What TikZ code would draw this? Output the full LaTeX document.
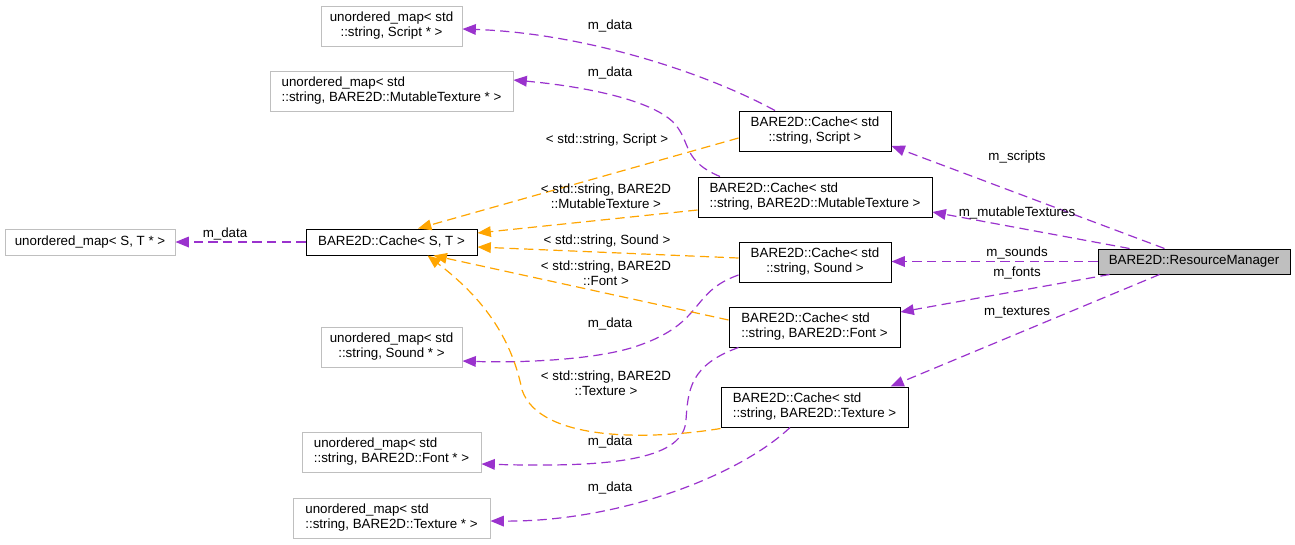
\documentclass[tikz,border=0pt]{standalone}
\usepackage{fontspec}
\setmainfont{Liberation Sans}
\usetikzlibrary{arrows.meta,positioning,calc}
\definecolor{relpurple}{HTML}{9A32CD}
\definecolor{tplorange}{HTML}{FFA500}
\definecolor{extgray}{HTML}{BFBFBF}

\begin{document}
\begin{tikzpicture}[
  x=0.75pt, y=-0.75pt,
  every node/.style={font=\fontsize{10}{11.25}\selectfont, inner sep=0pt},
  box/.style={draw, line width=0.75pt, minimum height=30pt},
  ext/.style={draw=extgray, line width=0.75pt, minimum height=30pt},
  lbl/.style={align=center},
  arr/.style={-{Triangle[length=10pt,width=8pt]}, relpurple, line width=0.9pt,
              dash pattern=on 7pt off 4pt},
  tpl/.style={-{Triangle[length=10pt,width=8pt]}, tplorange, line width=0.9pt,
              dash pattern=on 7pt off 4pt},
]
\useasboundingbox (0,0) rectangle (1295,544);

\node[box, fill=extgray, minimum width=144pt, minimum height=18.75pt] (rm) at (1194,261.5) {BARE2D::ResourceManager};

\node[box, minimum width=114pt, align=center] (csc) at (815,131) {BARE2D::Cache< std\\::string, Script >};
\node[box, minimum width=175.5pt, align=left] (cmut) at (815,197) {BARE2D::Cache< std\\::string, BARE2D::MutableTexture >};
\node[box, minimum width=114pt, align=center] (csnd) at (815,262) {BARE2D::Cache< std\\::string, Sound >};
\node[box, minimum width=128.25pt, align=left] (cfont) at (814.5,327) {BARE2D::Cache< std\\::string, BARE2D::Font >};
\node[box, minimum width=140.25pt, align=left] (ctex) at (814.5,407) {BARE2D::Cache< std\\::string, BARE2D::Texture >};

\node[box, minimum width=128.25pt, minimum height=19.5pt] (cst) at (391.5,242) {BARE2D::Cache< S, T >};
\node[ext, minimum width=127.5pt, minimum height=19.5pt] (umst) at (90,242) {unordered\_map< S, T * >};

\node[ext, minimum width=105.75pt, align=center] (umscript) at (391.5,26) {unordered\_map< std\\::string, Script * >};
\node[ext, minimum width=182.25pt, align=left] (ummut) at (391.5,91) {unordered\_map< std\\::string, BARE2D::MutableTexture * >};
\node[ext, minimum width=105.75pt, align=center] (umsnd) at (391.5,347) {unordered\_map< std\\::string, Sound * >};
\node[ext, minimum width=134.25pt, align=left] (umfont) at (391.5,452) {unordered\_map< std\\::string, BARE2D::Font * >};
\node[ext, minimum width=147.75pt, align=left] (umtex) at (391.5,518) {unordered\_map< std\\::string, BARE2D::Texture * >};

\draw[arr] ($(rm.north west)+(67,0)$) -- ($(csc.east)+(0,15)$);
\draw[arr] ($(rm.north west)+(32,0)$) -- ($(cmut.east)+(0,15)$);
\draw[arr] (rm.west) -- (rm.west -| csnd.east);
\draw[arr] ($(rm.south west)+(12,0)$) -- ($(cfont.east)+(0,-15)$);
\draw[arr] ($(rm.south west)+(62,0)$) -- ($(ctex.north east)+(-18,0)$);
\node[lbl] (lscr) at (1017,157) {m\_scripts};
\node[lbl] (lmut) at (1017,213) {m\_mutableTextures};
\node[lbl] (lsnd) at (1017,253) {m\_sounds};
\node[lbl] (lfnt) at (1017,273) {m\_fonts};
\node[lbl] (ltex) at (1017,313) {m\_textures};

\draw[arr] ($(csc.north)+(-40,0)$) .. controls (700,70) and (580,33) .. ($(umscript.east)+(0,3)$);
\draw[arr] ($(cmut.north)+(-95,0)$) .. controls (685,162) and (690,145) .. (678,128)
  .. controls (660,100) and (580,86) .. ($(ummut.east)+(0,-11)$);
\draw[arr] (cst.west) -- (umst.east);
\draw[arr] ($(csnd.west)+(0,13)$) .. controls (690,292) and (705,322) .. (640,345)
  .. controls (600,360) and (520,363) .. ($(umsnd.east)+(0,14)$);
\draw[arr] ($(cfont.south west)+(10,0)$) .. controls (690,365) and (688,390) .. (686,420)
  .. controls (684,458) and (620,468) .. ($(umfont.east)+(0,12)$);
\draw[arr] ($(ctex.south)+(-24.5,0)$) .. controls (740,475) and (620,522) .. ($(umtex.east)+(0,3)$);
\node[lbl] (ld1) at (610,26) {m\_data};
\node[lbl] (ld2) at (610,73) {m\_data};
\node[lbl] (ld3) at (225,234) {m\_data};
\node[lbl] (ld4) at (610,324) {m\_data};
\node[lbl] (ld5) at (610,442) {m\_data};
\node[lbl] (ld6) at (610,488) {m\_data};

\draw[tpl] ($(csc.west)+(0,7)$) -- ($(cst.north)+(26.5,0)$);
\draw[tpl] ($(cmut.west)+(0,13)$) -- ($(cst.east)+(0,-9)$);
\draw[tpl] ($(csnd.west)+(0,-4)$) -- ($(cst.east)+(0,5)$);
\draw[tpl] ($(cfont.west)+(0,-7)$) -- ($(cst.south)+(42,0)$);
\draw[tpl] ($(ctex.south west)+(0,1)$) .. controls (650,440) and (540,442) .. (522,390)
  .. controls (510,330) and (475,292) .. ($(cst.south)+(36,0)$);
\node[lbl] (tscr) at (607,140) {< std::string, Script >};
\node[lbl] (tmut) at (606,196) {< std::string, BARE2D\\::MutableTexture >};
\node[lbl] (tsnd) at (607,241) {< std::string, Sound >};
\node[lbl] (tfnt) at (606,273) {< std::string, BARE2D\\::Font >};
\node[lbl] (ttex) at (606,383) {< std::string, BARE2D\\::Texture >};
\end{tikzpicture}
\end{document}
